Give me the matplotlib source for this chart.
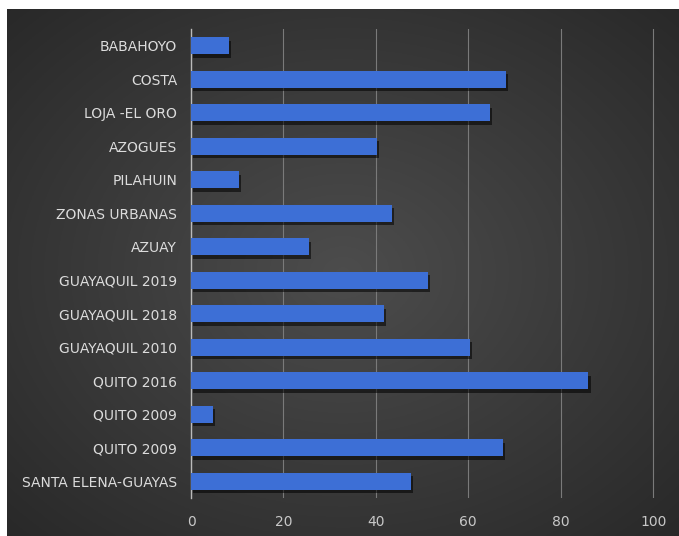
import matplotlib
matplotlib.use("Agg")
import matplotlib.pyplot as plt
import matplotlib.patheffects as pe
import numpy as np

# datos (de arriba hacia abajo)
lugares = ['BABAHOYO', 'COSTA', 'LOJA -EL ORO', 'AZOGUES', 'PILAHUIN',
           'ZONAS URBANAS', 'AZUAY', 'GUAYAQUIL 2019', 'GUAYAQUIL 2018',
           'GUAYAQUIL 2010', 'QUITO 2016', 'QUITO 2009', 'QUITO 2009',
           'SANTA ELENA-GUAYAS']
valores = [8.2, 68.2, 64.6, 40.2, 10.4, 43.5, 25.5, 51.3, 41.8, 60.4,
           86.0, 4.8, 67.6, 47.6]
ticks_x = [0, 20, 40, 60, 80, 100]

plt.rcParams['font.family'] = ['DejaVu Sans']

W, H = 679, 536
fig = plt.figure(figsize=(W / 100, H / 100), dpi=100, facecolor='white')

# fondo oscuro con degradado radial
bg = fig.add_axes([7 / W, 0, 1 - 7 / W, (H - 9) / H])
gx, gy = np.meshgrid(np.linspace(-1, 1, 400), np.linspace(-1, 1, 320))
r = np.sqrt(gx ** 2 + gy ** 2) / np.sqrt(2)
g = 0.30 - 0.14 * r
img = np.dstack([g, g, g])
bg.imshow(img, aspect='auto', extent=[0, 1, 0, 1])
bg.set_axis_off()

ax = fig.add_axes([191 / W, 38 / H, 464 / W, (498 - 29) / H])
ax.set_facecolor('none')

y = np.arange(len(lugares))
bars = ax.barh(y, valores, height=0.5, color='#3d6fd6', zorder=3)
for b in bars:
    b.set_path_effects([pe.SimplePatchShadow(offset=(1.5, -2.5), shadow_rgbFace='black', alpha=0.55),
                        pe.Normal()])

ax.set_xlim(0, 100.4)
ax.set_ylim(len(lugares) - 0.5, -0.5)
ax.set_yticks(y)
ax.set_yticklabels(lugares, color='#dcdcdc', fontsize=10)
ax.set_xticks(ticks_x)
ax.set_xticklabels([str(t) for t in ticks_x], color='#c8c8c8', fontsize=10)
ax.tick_params(length=0, pad=10)
ax.tick_params(axis='x', pad=12)
ax.grid(axis='x', color='#7a7a7a', linewidth=0.8, zorder=0)
for s in ['top', 'right', 'bottom']:
    ax.spines[s].set_visible(False)
ax.spines['left'].set_color('#bbbbbb')
ax.spines['left'].set_linewidth(1)

fig.savefig('out.png', dpi=100, facecolor='white')
